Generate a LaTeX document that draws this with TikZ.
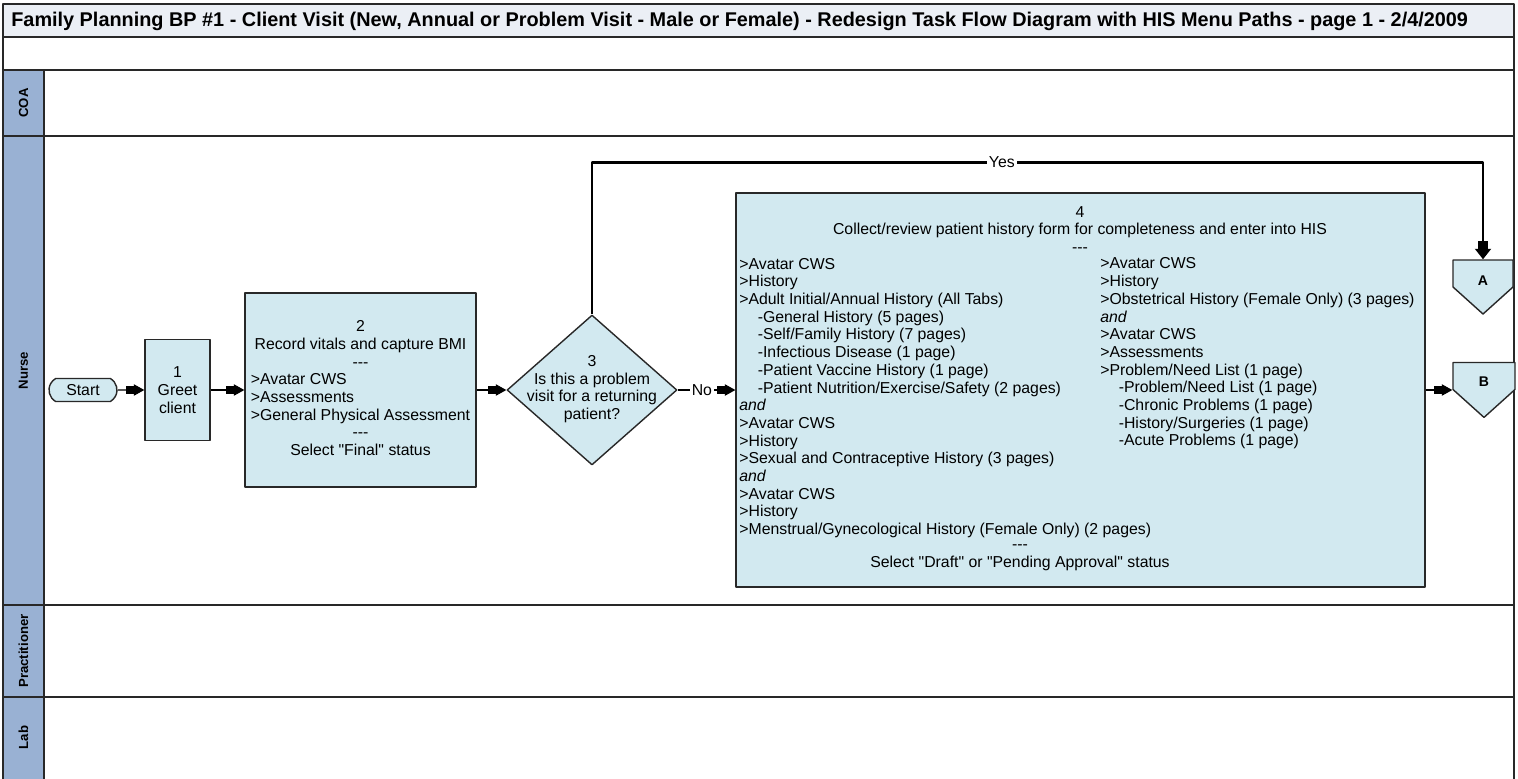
\documentclass[tikz,border=0pt]{standalone}
\usepackage{fontspec}
\setmainfont{Liberation Sans}
\usetikzlibrary{arrows.meta,shapes.geometric,shapes.misc,shapes.symbols}

\definecolor{taskblue}{RGB}{210,233,240}
\definecolor{lanehead}{RGB}{153,177,211}
\definecolor{titleband}{RGB}{235,239,245}
\definecolor{lineclr}{RGB}{40,40,40}
\newcommand{\bodyfont}{\fontsize{9}{10.07}\selectfont}
\newcommand{\dashrow}{-{}-{}-}
\newcommand{\ind}{\hspace*{10.5pt}}
\newcommand{\qt}[1]{\textquotedbl#1\textquotedbl}

\begin{document}
\begin{tikzpicture}[
			x=0.02cm, y=-0.02cm,
			every node/.style={font=\bodyfont},
			line join=round,
			laneline/.style={draw=lineclr, line width=0.8pt},
			lanelabel/.style={rotate=90, font=\bfseries\fontsize{7.5}{9}\selectfont},
			task/.style={draw=lineclr, line width=0.8pt, fill=taskblue, inner sep=1pt},
			terminal/.style={rounded rectangle, rounded rectangle arc length=120, draw=lineclr, line width=0.8pt, fill=taskblue, minimum width=1.36cm, minimum height=0.46cm, inner sep=0pt},
			decision/.style={diamond, draw=lineclr, line width=0.8pt, fill=taskblue, minimum width=3.4cm, minimum height=3cm, inner sep=0pt},
			offpage/.style={signal, signal to=south, signal from=nowhere, signal pointer angle=96, draw=lineclr, line width=0.8pt, fill=taskblue, minimum width=1.2cm, minimum height=0.54cm, inner sep=0pt},
			offtext/.style={inner sep=0pt, font=\bfseries\fontsize{8}{9}\selectfont},
			note/.style={inner sep=0pt},
			flow/.style={line width=0.6pt, -{Square[length=4.5pt,width=4.5pt] Triangle[length=6pt,width=6.5pt]}},
			yesflow/.style={line width=1.6pt, -{Square[length=4.5pt,width=6pt] Triangle[length=6pt,width=9pt]}},
			tag/.style={fill=white, inner sep=1pt}
			]
			\useasboundingbox (0,0) rectangle (1518,778);
			
			% title band
			\draw[laneline, fill=titleband] (3,4) rectangle (1514,37);
			\node[anchor=west, note, font=\bfseries\fontsize{11.3}{12}\selectfont] (title) at (11,21) {Family Planning BP \#1 - Client Visit (New, Annual or Problem Visit - Male or Female) - Redesign Task Flow Diagram with HIS Menu Paths - page 1 - 2/4/2009};
			\draw[laneline] (3,37) rectangle (1514,70);
			
			% swim lanes
			\foreach \ytop/\ybot/\ymid/\lname in {70/136/103/COA, 136/605/370.5/Nurse, 605/697/651/Practitioner, 697/800/737.5/Lab}
			{
				\draw[laneline] (3,\ytop) rectangle (1514,\ybot);
				\draw[laneline, fill=lanehead] (3,\ytop) rectangle (44,\ybot);
				\node[lanelabel] (lane\lname) at (23.5,\ymid) {\lname};
			}
			
			% nurse tasks
			\node[terminal] (start) at (83,390) {Start};
			\node[task, minimum width=1.3cm, minimum height=2.02cm, align=center] (greet) at (177.5,390) {1\\Greet\\client};
			\node[task, minimum width=4.62cm, minimum height=3.88cm] (vitals) at (360.5,390) {\begin{tabular}{@{}l@{}}
					\multicolumn{1}{@{}c@{}}{2}\\
					\multicolumn{1}{@{}c@{}}{Record vitals and capture BMI}\\
					\multicolumn{1}{@{}c@{}}{\dashrow}\\
					>Avatar CWS\\
					>Assessments\\
					>General Physical Assessment\\
					\multicolumn{1}{@{}c@{}}{\dashrow}\\
					\multicolumn{1}{@{}c@{}}{Select \qt{Final} status}
				\end{tabular}};
			\node[decision] (q3) at (592,390) {};
			\node[align=center, note] (q3text) at (592,389) {3\\Is this a problem\\visit for a returning\\patient?};
			
			\node[task, minimum width=13.78cm, minimum height=7.88cm] (hist) at (1080.5,390) {};
			\node[align=center, note] (histhead) at (1080,229.5) {4\\Collect/review patient history form for completeness and enter into HIS\\\dashrow};
			\node[align=left, anchor=west, note] (histleft) at (739,398) {>Avatar CWS\\>History\\>Adult Initial/Annual History (All Tabs)\\
				\ind-General History (5 pages)\\\ind-Self/Family History (7 pages)\\\ind-Infectious Disease (1 page)\\
				\ind-Patient Vaccine History (1 page)\\\ind-Patient Nutrition/Exercise/Safety (2 pages)\\
				\textit{and}\\>Avatar CWS\\>History\\>Sexual and Contraceptive History (3 pages)\\
				\textit{and}\\>Avatar CWS\\>History\\>Menstrual/Gynecological History (Female Only) (2 pages)};
			\node[align=left, anchor=west, note] (histright) at (1100,353.5) {>Avatar CWS\\>History\\>Obstetrical History (Female Only) (3 pages)\\
				\textit{and}\\>Avatar CWS\\>Assessments\\>Problem/Need List (1 page)\\
				\ind-Problem/Need List (1 page)\\\ind-Chronic Problems (1 page)\\
				\ind-History/Surgeries (1 page)\\\ind-Acute Problems (1 page)};
			\node[align=center, note] (histfoot) at (1020,558) {\dashrow\\Select \qt{Draft} or \qt{Pending Approval} status};
			
			% off-page connectors
			\node[offpage] (A) at (1483,273.5) {};
			\node[offtext] (Atext) at (1483,281) {A};
			\node[offpage, minimum width=1.24cm] (B) at (1484,376) {};
			\node[offtext] (Btext) at (1484,382) {B};
			
			% connectors
			\draw[flow] (start) -- (greet);
			\draw[flow] (greet) -- (vitals);
			\draw[flow] (vitals) -- (q3);
			\draw[flow] (q3) -- node[tag, pos=0.42] (nolbl) {No} (hist);
			\draw[flow] (hist.east) -- (hist.east -| B.west);
			\draw[yesflow] (q3.north) -- ++(0,-152) -| node[tag, pos=0.23] (yeslbl) {Yes} (A.north);
		\end{tikzpicture}
\end{document}
